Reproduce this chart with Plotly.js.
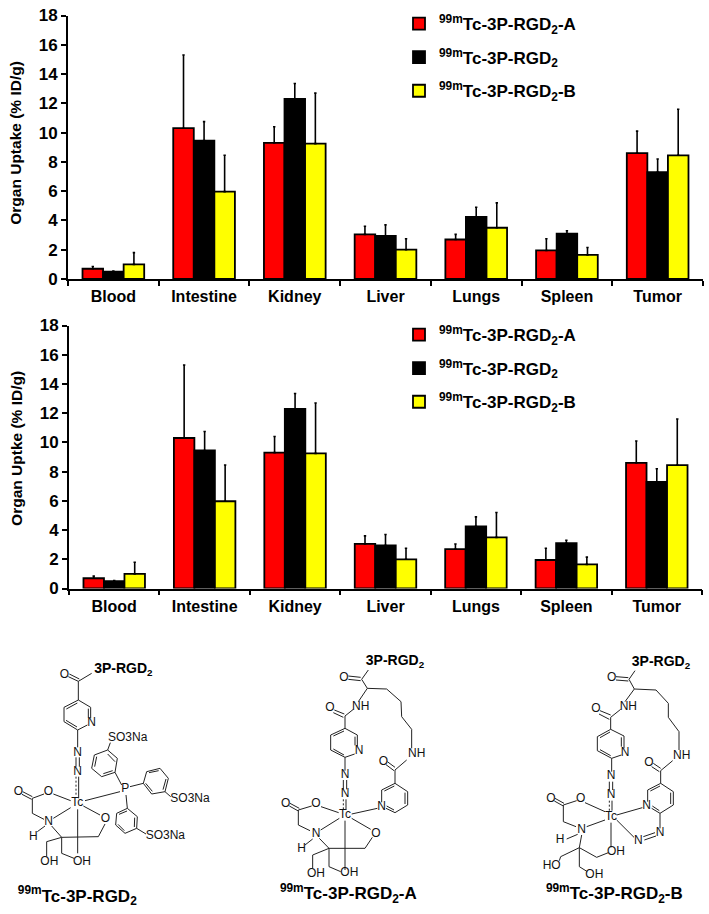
<!DOCTYPE html>
<html><head><meta charset="utf-8">
<script src="https://cdn.plot.ly/plotly-3.0.1.min.js"></script>
<style>html,body{margin:0;padding:0;background:#fff}#c{width:709px;height:914px}</style></head>
<body><div id="c"></div>
<script>
var organs = ['Blood','Intestine','Kidney','Liver','Lungs','Spleen','Tumor'];
var nameA = '<sup>99m</sup>Tc-3P-RGD<sub>2</sub>-A';
var nameC = '<sup>99m</sup>Tc-3P-RGD<sub>2</sub>';
var nameB = '<sup>99m</sup>Tc-3P-RGD<sub>2</sub>-B';
var valuesA = [0.7,10.3,9.3,3.05,2.7,1.95,8.6];
var valuesC = [0.5,9.45,12.3,2.95,4.25,3.1,7.3];
var valuesB = [1.0,5.97,9.25,2.0,3.5,1.65,8.45];
var errorsA = [0.15,5.0,1.1,0.55,0.35,0.8,1.5];
var errorsC = [0.05,1.3,1.05,0.75,0.65,0.2,0.9];
var errorsB = [0.8,2.48,3.45,0.75,1.7,0.5,3.15];
var yTicks = [0,2,4,6,8,10,12,14,16,18];

// Chemical structures: bonds as [x1,y1,x2,y2] in a 3x sketch grid of each panel
var mol1Bonds = [[235,124,275,100],[205,110,235,124],[208,102,238,117],[235,124,235,180],
[235,180,272,202],[272,202,272,235],[262,255,233,270],[233,270,192,245],[192,245,192,202],[192,202,235,180],
[199,207,232,189],[265,206,265,233],[198,241,231,261],[233,270,233,322],[228,352,228,380],[238,352,238,380],[236,410,236,475],
[233,508,233,640],[68,455,97,470],[66,463,95,478],[97,475,132,462],[160,462,212,482],[97,475,97,520],[97,520,132,538],
[160,535,212,503],[135,558,112,575],[155,558,185,592],[185,592,140,605],[140,605,140,650],[185,592,185,640],[185,640,222,655],
[185,592,295,590],[295,590,315,552],[300,525,250,498],[255,482,360,455],
[365,435,345,397],[345,397,352,355],[352,355,323,330],[323,330,283,345],[283,345,275,385],[275,385,305,410],[305,410,345,397],
[345,365,323,342],[290,350,284,380],[310,401,338,392],[323,330,331,308],
[390,440,430,430],[430,430,440,395],[440,395,480,385],[480,385,505,415],[505,415,495,455],[495,455,455,462],[455,462,430,430],
[447,398,476,392],[498,417,489,449],[457,454,437,430],[495,455,512,470],
[378,465,382,505],[382,505,412,530],[412,530,410,565],[410,565,375,580],[375,580,347,555],[347,555,350,520],[350,520,382,505],
[404,533,403,561],[373,572,354,553],[357,523,381,513],[410,565,438,582]];
var mol1Dash = [[228,410,228,470]];
var mol1Labels = [[193,106,'O'],[275,248,'N'],[233,338,'N'],[233,396,'N'],[232,490,'Tc'],
[145,456,'O'],[55,457,'O'],[146,545,'N'],[100,592,'H'],[148,665,'OH'],[246,665,'OH'],[316,537,'O'],[376,448,'P'],
[383,295,'SO3Na'],[570,478,'SO3Na'],[496,588,'SO3Na']];
var mol1Link = [370,88];
var mol1Title = [232,772,'<sup>99m</sup>Tc-3P-RGD<sub>2</sub>'];

var mol2Bonds = [[325,108,362,112],[325,118,362,122],[365,118,385,90],[365,118,382,145],[382,145,440,147],[440,147,483,185],[483,185,485,230],[485,230,515,268],[515,268,515,325],
[382,145,355,185],[340,208,315,228],[283,210,313,222],[280,218,310,232],[315,228,315,265],
[315,265,352,285],[352,285,352,318],[344,342,315,352],[315,352,272,330],[272,330,272,285],[272,285,315,265],[280,288,312,273],[345,290,345,316],[312,345,280,327],
[315,352,315,392],[310,420,310,448],[320,420,320,448],[318,478,318,510],[315,542,315,690],
[150,490,178,505],[148,498,175,513],[175,510,215,498],[243,500,296,518],[175,510,175,555],[175,555,210,572],[242,570,298,535],[218,597,195,615],[238,595,267,625],
[267,625,375,625],[375,625,397,592],[392,568,335,535],[267,625,218,645],[218,645,218,685],[267,625,267,680],[267,680,302,695],[335,522,412,505],
[425,487,425,450],[425,450,465,430],[465,430,503,455],[503,455,503,495],[503,495,465,518],[465,518,438,505],[433,453,463,438],[495,458,495,492],[462,510,440,498],
[465,430,465,390],[442,365,465,382],[438,374,462,392],[465,390,500,360]];
var mol2Dash = [[310,478,310,510]];
var mol2Labels = [[312,113,'O'],[362,200,'NH'],[270,203,'O'],[357,333,'N'],[315,405,'N'],[315,462,'N'],[315,525,'Tc'],
[228,492,'O'],[137,493,'O'],[228,582,'N'],[185,628,'H'],[228,702,'OH'],[328,700,'OH'],[408,582,'O'],[425,500,'N'],[430,365,'O'],[530,342,'NH']];
var mol2Link = [465,65];
var mol2Title = [325,765,'<sup>99m</sup>Tc-3P-RGD<sub>2</sub>-A'];

var mol3Bonds = [[408,110,445,113],[408,120,445,123],[447,118,465,92],[447,118,463,147],[463,147,528,150],[528,150,565,190],[565,190,565,232],[565,232,597,275],[597,275,597,330],
[463,147,435,185],[422,208,392,232],[360,212,392,225],[357,222,388,238],[392,232,392,268],
[392,268,432,288],[432,288,432,325],[424,345,395,355],[395,355,352,332],[352,332,352,290],[352,290,392,268],[360,293,390,276],[424,292,424,320],[392,347,360,329],
[395,355,395,395],[388,425,388,450],[398,425,398,450],[396,482,396,512],[393,548,393,622],
[225,475,252,490],[223,483,250,498],[250,495,290,482],[315,488,375,515],[250,495,250,545],[250,545,288,560],[320,560,375,540],[293,583,260,597],[305,585,298,623],
[298,623,350,652],[350,652,385,638],[298,623,242,650],[242,650,238,662],[298,623,298,680],[298,680,322,695],[410,525,487,503],
[503,485,503,450],[503,450,542,430],[542,430,580,455],[580,455,580,495],[580,495,540,520],[540,520,515,505],[511,453,540,438],[572,458,572,492],[538,512,517,498],
[540,520,540,565],[490,590,525,578],[493,600,528,588],[410,540,462,592],
[542,430,542,392],[520,370,542,385],[515,380,538,395],[542,392,578,362]];
var mol3Dash = [[388,482,388,512]];
var mol3Labels = [[395,115,'O'],[445,200,'NH'],[348,208,'O'],[435,338,'N'],[393,408,'N'],[393,465,'N'],[393,530,'Tc'],
[302,478,'O'],[213,478,'O'],[305,570,'N'],[240,600,'H'],[408,635,'OH'],[215,677,'HO'],[343,705,'OH'],[500,498,'N'],[540,580,'N'],[475,603,'N'],[507,370,'O'],[605,348,'NH']];
var mol3Link = [543,68];
var mol3Title = [403,765,'<sup>99m</sup>Tc-3P-RGD<sub>2</sub>-B'];
var linkLabel = '3P-RGD<sub>2</sub>';

var panels = [
 {ox:0, oy:640, bonds:mol1Bonds, dash:mol1Dash, labels:mol1Labels, link:mol1Link, title:mol1Title},
 {ox:240, oy:640, bonds:mol2Bonds, dash:mol2Dash, labels:mol2Labels, link:mol2Link, title:mol2Title},
 {ox:480, oy:640, bonds:mol3Bonds, dash:mol3Dash, labels:mol3Labels, link:mol3Link, title:mol3Title}
];

function barTrace(name,vals,errs,color,xa,ya,leg){
  return {type:'bar',name:name,x:organs,y:vals,xaxis:xa,yaxis:ya,legend:leg,legendgroup:name+leg,
    marker:{color:color,line:{color:'#000',width:1.8}},
    error_y:{type:'data',symmetric:false,array:errs,arrayminus:organs.map(function(){return 0}),color:'#000',thickness:1.6,width:1.2},
    hoverinfo:'x+y'};
}
var traces = [];
[['x','y','legend'],['x2','y2','legend2']].forEach(function(a){
  traces.push(barTrace(nameA,valuesA,errorsA,'#ff0000',a[0],a[1],a[2]));
  traces.push(barTrace(nameC,valuesC,errorsC,'#000000',a[0],a[1],a[2]));
  traces.push(barTrace(nameB,valuesB,errorsB,'#ffff00',a[0],a[1],a[2]));
});
function lineTrace(key,dash){
  var xs=[],ys=[];
  panels.forEach(function(p){p[key].forEach(function(b){
    xs.push(p.ox+b[0]/3,p.ox+b[2]/3,null);
    ys.push(p.oy+b[1]/3,p.oy+b[3]/3,null);
  });});
  return {type:'scatter',mode:'lines',x:xs,y:ys,xaxis:'x3',yaxis:'y3',showlegend:false,hoverinfo:'skip',
    line:{color:'#222',width:1,dash:dash}};
}
traces.push(lineTrace('bonds','solid'));
traces.push(lineTrace('dash','2px,2px'));
var lx=[],ly=[],lt=[],kx=[],ky=[],kt=[],tx=[],ty=[],tt=[];
panels.forEach(function(p){
  p.labels.forEach(function(l){lx.push(p.ox+l[0]/3);ly.push(p.oy+l[1]/3);lt.push(l[2]);});
  kx.push(p.ox+p.link[0]/3);ky.push(p.oy+p.link[1]/3);kt.push(linkLabel);
  tx.push(p.ox+p.title[0]/3);ty.push(p.oy+p.title[1]/3);tt.push(p.title[2]);
});
traces.push({type:'scatter',mode:'text',x:lx,y:ly,text:lt,textposition:'middle center',xaxis:'x3',yaxis:'y3',showlegend:false,hoverinfo:'skip',
  textfont:{family:'Liberation Sans',size:12,color:'#111'}});
traces.push({type:'scatter',mode:'text',x:kx,y:ky,text:kt,textposition:'middle center',xaxis:'x3',yaxis:'y3',showlegend:false,hoverinfo:'skip',
  textfont:{family:'Liberation Sans',size:14,color:'#000',weight:'bold'}});
traces.push({type:'scatter',mode:'text',x:tx,y:ty,text:tt,textposition:'middle center',xaxis:'x3',yaxis:'y3',showlegend:false,hoverinfo:'skip',
  textfont:{family:'Liberation Sans',size:17,color:'#000',weight:'bold'}});

var H=914,W=709;
function xAx(anchor,l,r){return {anchor:anchor,domain:[l/W,r/W],type:'category',tickson:'boundaries',ticks:'outside',ticklen:5,tickwidth:1.5,tickcolor:'#000',
  showline:true,linecolor:'#000',linewidth:1.8,showgrid:false,zeroline:false,ticklabelstandoff:2,
  tickfont:{family:'Liberation Sans',size:16,color:'#000',weight:'bold'},fixedrange:true};}
function yAx(anchor,top,bot,title){return {anchor:anchor,domain:[1-bot/H,1-top/H],range:[0,18],tickvals:yTicks,ticks:'outside',ticklen:5,tickwidth:1.5,tickcolor:'#000',
  showline:true,linecolor:'#000',linewidth:1.8,showgrid:false,zeroline:false,
  tickfont:{family:'Liberation Sans',size:17,color:'#000',weight:'bold'},fixedrange:true,
  title:{text:title,standoff:13,font:{family:'Liberation Sans',size:15.5,color:'#000',weight:'bold'}}};}
function leg(x,y,gap){return {x:x/W,y:1-y/H,xanchor:'left',yanchor:'top',bgcolor:'rgba(0,0,0,0)',tracegroupgap:gap,traceorder:'grouped',
  font:{family:'Liberation Sans',size:17,color:'#000',weight:'bold'},itemclick:false,itemdoubleclick:false};}
var layout = {width:W,height:H,margin:{l:0,r:0,t:0,b:0},paper_bgcolor:'#fff',plot_bgcolor:'rgba(0,0,0,0)',
  barmode:'group',bargap:0.32,bargroupgap:0,showlegend:true,
  font:{family:'Liberation Sans'},
  xaxis:xAx('y',68,703), yaxis:yAx('x',15.5,279,'&nbsp;&nbsp;Organ Uptake (% ID/g)'),
  xaxis2:xAx('y2',69,702), yaxis2:yAx('x2',325.5,588.5,'&nbsp;&nbsp;&nbsp;&nbsp;Organ Uptke (% ID/g)'),
  xaxis3:{domain:[0,1],range:[0,W],visible:false,anchor:'y3',fixedrange:true},
  yaxis3:{domain:[0,1],range:[H,0],visible:false,anchor:'x3',fixedrange:true},
  legend:leg(399,6,8.5), legend2:leg(399,317,8.5)
};
Plotly.newPlot('c',traces,layout,{displayModeBar:false});
</script></body></html>
